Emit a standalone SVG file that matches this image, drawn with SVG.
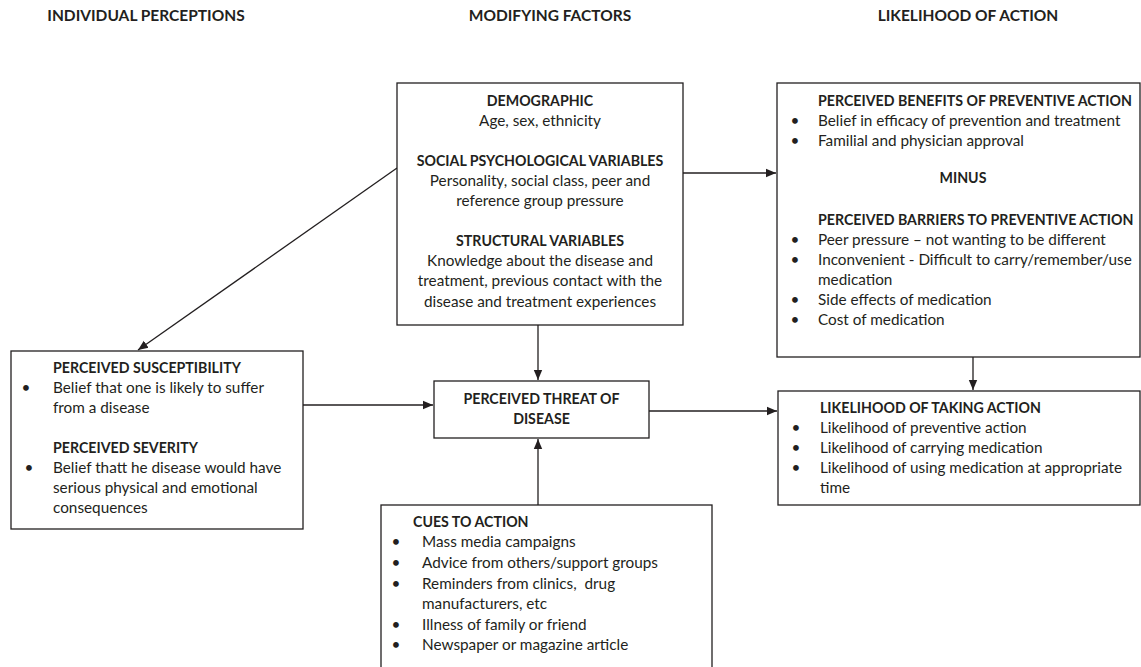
<svg xmlns="http://www.w3.org/2000/svg" width="1141" height="667" viewBox="0 0 1141 667">
<style>
text{font-family:Lato,"Liberation Sans",sans-serif;font-size:15.3px;fill:#231f20}
.b{font-weight:bold;font-size:14.2px}
.h{font-weight:bold;font-size:15.5px}
.c{text-anchor:middle}
.box{fill:#fff;stroke:#231f20;stroke-width:1.3}
.ln{stroke:#231f20;stroke-width:1.3;fill:none}
.dot{fill:#231f20}
</style>
<defs>
<marker id="ah" viewBox="0 0 10 10" refX="10" refY="5" markerWidth="10" markerHeight="10" markerUnits="userSpaceOnUse" orient="auto">
<path d="M0,0.8 L10,5 L0,9.2 z" fill="#231f20"/>
</marker>
</defs>
<rect width="1141" height="667" fill="#fff"/>
<g id="headers">
<text class="h c" x="146" y="21">INDIVIDUAL PERCEPTIONS</text>
<text class="h c" x="550" y="21">MODIFYING FACTORS</text>
<text class="h c" x="968" y="21">LIKELIHOOD OF ACTION</text>
</g>
<g id="connectors">
<line class="ln" x1="397" y1="168" x2="138" y2="350" marker-end="url(#ah)"/>
<line class="ln" x1="683" y1="173" x2="776" y2="173" marker-end="url(#ah)"/>
<line class="ln" x1="538" y1="325" x2="538" y2="380" marker-end="url(#ah)"/>
<line class="ln" x1="303" y1="405" x2="433" y2="405" marker-end="url(#ah)"/>
<line class="ln" x1="538" y1="505" x2="538" y2="439" marker-end="url(#ah)"/>
<line class="ln" x1="649" y1="411" x2="777" y2="411" marker-end="url(#ah)"/>
<line class="ln" x1="973" y1="357" x2="973" y2="390" marker-end="url(#ah)"/>
</g>
<g id="demographic">
<rect class="box" x="397" y="83" width="286" height="242"/>
<text class="b c" x="540" y="106">DEMOGRAPHIC</text>
<text class="c" x="540" y="126">Age, sex, ethnicity</text>
<text class="b c" x="540" y="166">SOCIAL PSYCHOLOGICAL VARIABLES</text>
<text class="c" x="540" y="186">Personality, social class, peer and</text>
<text class="c" x="540" y="206">reference group pressure</text>
<text class="b c" x="540" y="246">STRUCTURAL VARIABLES</text>
<text class="c" x="540" y="266">Knowledge about the disease and</text>
<text class="c" x="540" y="286">treatment, previous contact with the</text>
<text class="c" x="540" y="307">disease and treatment experiences</text>
</g>
<g id="benefits-barriers">
<rect class="box" x="777" y="83" width="363" height="274"/>
<text class="b" x="818" y="106">PERCEIVED BENEFITS OF PREVENTIVE ACTION</text>
<text class="dot c" x="795" y="126">•</text>
<text x="818" y="126">Belief in efficacy of prevention and treatment</text>
<text class="dot c" x="795" y="146">•</text>
<text x="818" y="146">Familial and physician approval</text>
<text class="b c" x="963" y="183">MINUS</text>
<text class="b" x="818" y="225">PERCEIVED BARRIERS TO PREVENTIVE ACTION</text>
<text class="dot c" x="795" y="245">•</text>
<text x="818" y="245">Peer pressure – not wanting to be different</text>
<text class="dot c" x="795" y="265">•</text>
<text x="818" y="265">Inconvenient - Difficult to carry/remember/use</text>
<text x="818" y="285">medication</text>
<text class="dot c" x="795" y="305">•</text>
<text x="818" y="305">Side effects of medication</text>
<text class="dot c" x="795" y="325">•</text>
<text x="818" y="325">Cost of medication</text>
</g>
<g id="susceptibility-severity">
<rect class="box" x="11" y="351" width="292" height="178"/>
<text class="b" x="53" y="373">PERCEIVED SUSCEPTIBILITY</text>
<text class="dot c" x="26" y="393">•</text>
<text x="53" y="393">Belief that one is likely to suffer</text>
<text x="53" y="413">from a disease</text>
<text class="b" x="53" y="453">PERCEIVED SEVERITY</text>
<text class="dot c" x="29" y="473">•</text>
<text x="53" y="473">Belief thatt he disease would have</text>
<text x="53" y="493">serious physical and emotional</text>
<text x="53" y="513">consequences</text>
</g>
<g id="threat">
<rect class="box" x="434" y="381" width="215" height="57"/>
<text class="b c" x="541.5" y="404">PERCEIVED THREAT OF</text>
<text class="b c" x="541.5" y="424">DISEASE</text>
</g>
<g id="likelihood">
<rect class="box" x="778" y="391" width="362" height="114"/>
<text class="b" x="820" y="413">LIKELIHOOD OF TAKING ACTION</text>
<text class="dot c" x="796" y="433">•</text>
<text x="820" y="433">Likelihood of preventive action</text>
<text class="dot c" x="796" y="453">•</text>
<text x="820" y="453">Likelihood of carrying medication</text>
<text class="dot c" x="796" y="473">•</text>
<text x="820" y="473">Likelihood of using medication at appropriate</text>
<text x="820" y="493">time</text>
</g>
<g id="cues">
<rect class="box" x="381" y="505" width="331" height="170"/>
<text class="b" x="413" y="527">CUES TO ACTION</text>
<text class="dot c" x="396" y="547">•</text>
<text x="422" y="547">Mass media campaigns</text>
<text class="dot c" x="396" y="568">•</text>
<text x="422" y="568">Advice from others/support groups</text>
<text class="dot c" x="396" y="589">•</text>
<text x="422" y="589" style="white-space:pre">Reminders from clinics,  drug</text>
<text x="422" y="609">manufacturers, etc</text>
<text class="dot c" x="396" y="630">•</text>
<text x="422" y="630">Illness of family or friend</text>
<text class="dot c" x="396" y="650">•</text>
<text x="422" y="650">Newspaper or magazine article</text>
</g>
</svg>
